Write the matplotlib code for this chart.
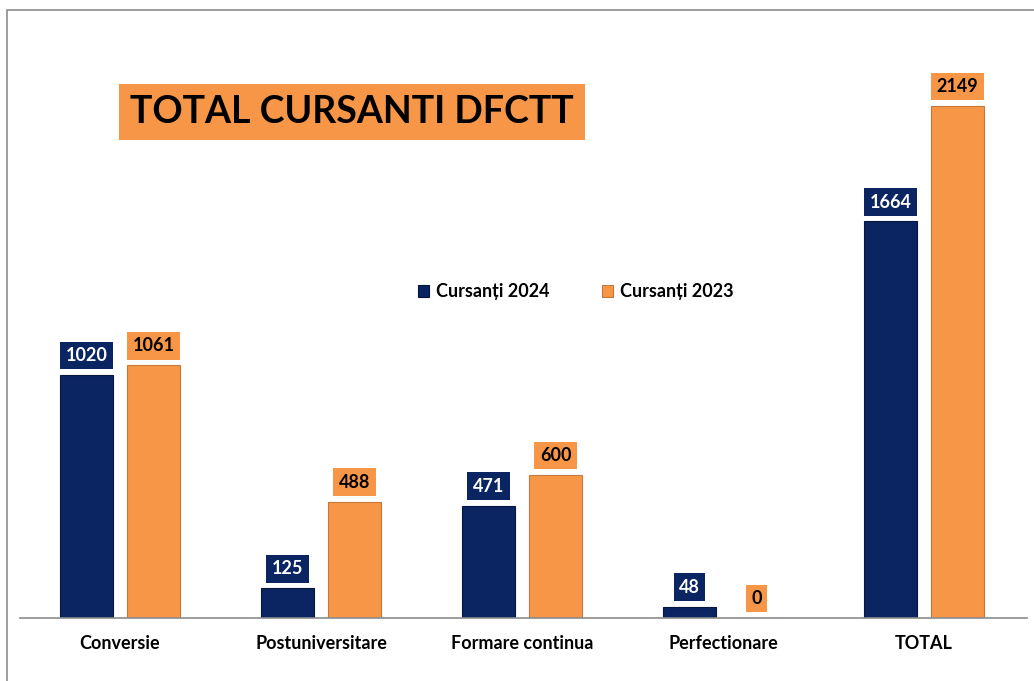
import matplotlib.pyplot as plt
from matplotlib.patches import Rectangle
import numpy as np

# date
categorii = ["Conversie", "Postuniversitare", "Formare continua", "Perfectionare", "TOTAL"]
cursanti_2024 = [1020, 125, 471, 48, 1664]
cursanti_2023 = [1061, 488, 600, 0, 2149]

albastru = "#0B2462"
portocaliu = "#F79646"

plt.rcParams['font.family'] = ['Lato', 'DejaVu Sans']
plt.rcParams['font.weight'] = 'bold'

W, H = 1034, 681
fig = plt.figure(figsize=(W / 100, H / 100), dpi=100)

# chenar gri (doar stanga si sus vizibile)
fig.patches.append(Rectangle((7 / W, -0.2), 1.2, (H - 10) / H + 0.2, transform=fig.transFigure,
                             fill=False, edgecolor="#8c8c8c", linewidth=1.2))

ax = fig.add_axes([20 / W, (H - 618) / H, 1007 / W, (618 - 15) / H])
x = np.arange(len(categorii))
latime = 0.264
off = 0.167
b1 = ax.bar(x - off, cursanti_2024, latime, color=albastru, edgecolor="#06163d", linewidth=0.8,
            label="Cursanți 2024")
b2 = ax.bar(x + off, cursanti_2023, latime, color=portocaliu, edgecolor="#c8773a", linewidth=0.8,
            label="Cursanți 2023")

ax.set_xlim(-0.4975, -0.4975 + 1007 / 201)
ax.set_ylim(0, (618 - 15) / 0.2383)

for bars, vals, bg, fg in [(b1, cursanti_2024, albastru, "white"), (b2, cursanti_2023, portocaliu, "black")]:
    for b, v in zip(bars, vals):
        ax.annotate(str(v), (b.get_x() + b.get_width() / 2, v), xytext=(0, 14),
                    textcoords="offset points", ha="center", va="center",
                    fontsize=13, fontweight="bold", color=fg,
                    bbox=dict(boxstyle="square,pad=0.3", facecolor=bg, edgecolor="none"))

for s in ["top", "right", "left"]:
    ax.spines[s].set_visible(False)
ax.spines["bottom"].set_color("#8c8c8c")
ax.spines["bottom"].set_linewidth(1.2)
ax.set_yticks([])
ax.set_xticks(x)
ax.set_xticklabels(categorii, fontsize=13, fontweight="bold")
ax.tick_params(axis="x", length=0, pad=12)

# titlu
fig.text(352 / W, 1 - 112 / H, "TOTAL CURSANTI DFCTT", fontsize=27, fontweight="bold",
         ha="center", va="center",
         bbox=dict(boxstyle="square,pad=0.3", facecolor=portocaliu, edgecolor="none"))

ax.legend(loc="center", bbox_to_anchor=(576 / W, 1 - 292 / H), bbox_transform=fig.transFigure,
          ncol=2, frameon=False, fontsize=13, handlelength=0.6, handleheight=0.6,
          handletextpad=0.4, columnspacing=2.9)

fig.savefig("out.png", dpi=100)
